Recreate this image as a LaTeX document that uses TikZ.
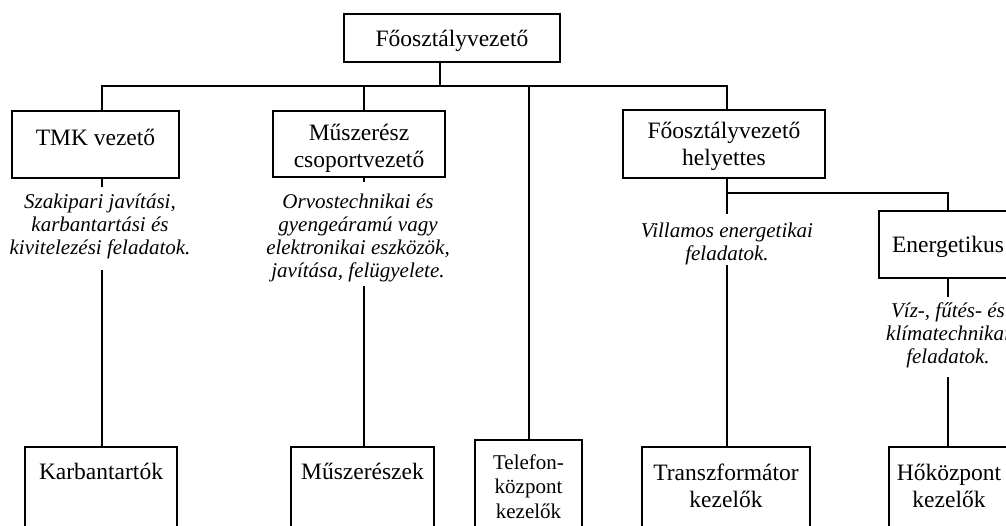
\documentclass[tikz,border=0pt]{standalone}
\usepackage{fontspec}
\setmainfont{Liberation Serif}
\newcommand\boxtxt[4]{\parbox[c][#2pt][t]{#1pt}{\centering\rule{0pt}{#3pt}#4}}
\newcommand\desctxt[4]{\parbox[t]{#1pt}{\centering\rule{0pt}{#2pt}#4\rule[-#3pt]{0pt}{#3pt}}}
\tikzset{
  orgbox/.style={draw, line width=2pt, inner sep=0pt, outer sep=0pt, fill=white, anchor=north west,
    font=\fontsize{23.5}{27}\selectfont},
  smallbox/.style={orgbox, font=\fontsize{21}{24.5}\selectfont},
  desc/.style={inner sep=0pt, outer sep=0pt, fill=white, anchor=north,
    font=\fontsize{21}{23}\selectfont\itshape},
  conn/.style={line width=2pt}
}
\begin{document}
\begin{tikzpicture}[x=1pt, y=-1pt]
\clip (0,0) rectangle (1006,525);
\fill[white] (0,0) rectangle (1006,525);
% boxes
\node[orgbox] (ceo) at (344,14) {\boxtxt{216}{48}{32}{Főosztályvezető}};
\node[orgbox] (tmk) at (12,111) {\boxtxt{167}{67}{34}{TMK vezető}};
\node[orgbox] (musz) at (273,111) {\boxtxt{172}{66}{29}{Műszerész\\csoportvezető}};
\node[orgbox] (hely) at (623,110) {\boxtxt{202}{68}{28}{Főosztályvezető\\helyettes}};
\node[orgbox] (energ) at (879,211) {\boxtxt{138}{67}{41}{Energetikus}};
\node[orgbox] (karb) at (25,447) {\boxtxt{152}{120}{32}{Karbantartók}};
\node[orgbox] (muszesz) at (291,447) {\boxtxt{143}{120}{32}{Műszerészek}};
\node[smallbox] (tel) at (475,440) {\boxtxt{107}{120}{29}{Telefon-\\központ\\kezelők}};
\node[orgbox] (trans) at (642,447) {\boxtxt{168}{120}{33}{Transzformátor\\kezelők}};
\node[orgbox] (hok) at (889,447) {\boxtxt{120}{120}{33}{Hőközpont\\kezelők}};
% coordinates of connector columns
\coordinate (j0) at (440,86);
\coordinate (xT) at (101.5,0);
\coordinate (xM) at (364,0);
\coordinate (xH) at (727,0);
\coordinate (xE) at (948,0);
\coordinate (j1) at (727,193);
% description texts
\node[desc] (tmkD) at (100,187) {\desctxt{200}{21}{16}{Szakipari javítási,\\karbantartási és\\kivitelezési feladatok.}};
\node[desc] (muszD) at (358,182) {\desctxt{190}{26}{9}{Orvostechnikai és\\gyengeáramú vagy\\elektronikai eszközök,\\javítása, felügyelete.}};
\node[desc] (villD) at (727,214) {\desctxt{190}{23}{5}{Villamos energetikai\\feladatok.}};
\node[desc] (energD) at (948,297) {\desctxt{140}{20}{14}{Víz-, fűtés- és\\klímatechnikai\\feladatok.}};
% connectors
\draw[conn] (ceo.south -| j0) -- (j0);
\draw[conn] (tmk.north -| xT) |- (j0) -| (hely.north -| xH);
\draw[conn] (musz.north -| xM) -- (xM |- j0);
\draw[conn] (tel.north) -- (tel.north |- j0);
\draw[conn] (tmk.south -| xT) -- (tmkD.north -| xT);
\draw[conn] (tmkD.south -| xT) -- (karb.north -| xT);
\draw[conn] (musz.south -| xM) -- (muszD.north -| xM);
\draw[conn] (muszD.south -| xM) -- (muszesz.north -| xM);
\draw[conn] (hely.south -| xH) -- (villD.north -| xH);
\draw[conn] (villD.south -| xH) -- (trans.north -| xH);
\draw[conn] (j1) -| (energ.north -| xE);
\draw[conn] (energ.south -| xE) -- (energD.north -| xE);
\draw[conn] (energD.south -| xE) -- (hok.north -| xE);
\end{tikzpicture}
\end{document}
